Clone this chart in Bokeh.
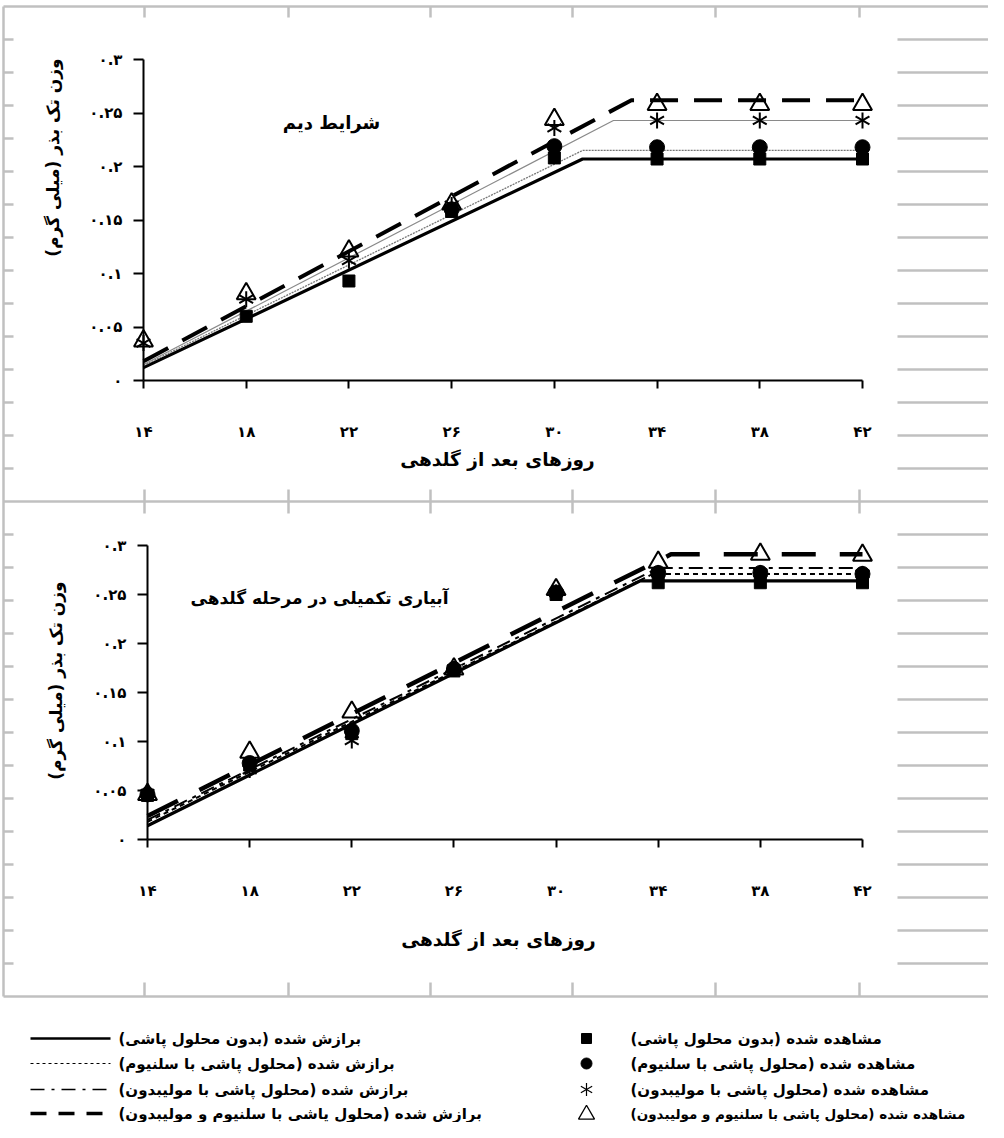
import math
from bokeh.plotting import figure
from bokeh.models import Range1d, LinearAxis, FixedTicker
from bokeh.core.properties import value
from bokeh.embed import file_html
from bokeh.resources import INLINE

nan = float("nan")
RLM = "\u200f"

# ---------------- data ----------------
days = [14, 18, 22, 26, 30, 34, 38, 42]
x_tick_labels = ["۱۴", "۱۸", "۲۲", "۲۶", "۳۰", "۳۴", "۳۸", "۴۲"]
y_ticks = [0, 0.05, 0.1, 0.15, 0.2, 0.25, 0.3]
y_tick_labels = ["۰", "۰.۰۵", "۰.۱", "۰.۱۵", "۰.۲", "۰.۲۵", "۰.۳"]

x_title = "روزهای بعد از گلدهی"
y_title = "وزن تک بذر (میلی گرم)"
top_note = "شرایط دیم"
bottom_note = "آبیاری تکمیلی در مرحله گلدهی"

legend_fit = ["برازش شده (بدون محلول پاشی)",
              "برازش شده (محلول پاشی با سلنیوم)",
              "برازش شده (محلول پاشی با مولیبدون)",
              "برازش شده (محلول پاشی با سلنیوم و مولیبدون)"]
legend_obs = ["مشاهده شده (بدون محلول پاشی)",
              "مشاهده شده (محلول پاشی با سلنیوم)",
              "مشاهده شده (محلول پاشی با مولیبدون)",
              "مشاهده شده (محلول پاشی با سلنیوم و مولیبدون)"]

# top panel (rainfed) - observed
top_obs_none = [nan, 0.060, 0.093, 0.158, 0.208, 0.207, 0.207, 0.207]
top_obs_se = [nan, nan, nan, 0.160, 0.219, 0.218, 0.218, 0.218]
top_obs_mo = [0.035, 0.076, 0.112, 0.164, 0.236, 0.243, 0.243, 0.243]
top_obs_semo = [0.037, 0.081, 0.121, 0.165, 0.244, 0.258, 0.258, 0.258]
# top panel - fitted (start, breakpoint, end)
top_fit_none_x = [14, 31.1, 42]
top_fit_none_y = [0.012, 0.207, 0.207]
top_fit_se_x = [14, 31.1, 42]
top_fit_se_y = [0.014, 0.215, 0.215]
top_fit_mo_x = [14, 32.3, 42]
top_fit_mo_y = [0.015, 0.243, 0.243]
top_fit_semo_x = [14, 33.0, 42]
top_fit_semo_y = [0.018, 0.262, 0.262]

# bottom panel (supplementary irrigation) - observed
bot_obs_none = [0.045, 0.076, 0.108, 0.172, 0.250, 0.262, 0.262, 0.262]
bot_obs_se = [0.046, 0.078, 0.111, 0.174, 0.252, 0.272, 0.272, 0.271]
bot_obs_mo = [0.047, 0.071, 0.101, 0.174, 0.252, 0.272, 0.272, 0.271]
bot_obs_semo = [0.046, 0.089, 0.130, 0.174, 0.255, 0.283, 0.291, 0.290]
# bottom panel - fitted
bot_fit_none_x = [14, 33.3, 42]
bot_fit_none_y = [0.014, 0.264, 0.264]
bot_fit_se_x = [14, 33.8, 42]
bot_fit_se_y = [0.018, 0.271, 0.271]
bot_fit_mo_x = [14, 34.0, 42]
bot_fit_mo_y = [0.020, 0.277, 0.277]
bot_fit_semo_x = [14, 34.5, 42]
bot_fit_semo_y = [0.024, 0.291, 0.291]

# ---------------- layout (page pixels) ----------------
W, H = 988, 1122
PX0, PX1 = 8, 8 + W          # page x covered by the figure
PY0, PY1 = 8, 8 + H          # page y covered by the figure
FONT = value("DejaVu Sans")


def lin_range(v0, p0, v1, p1, lo, hi):
    k = (v1 - v0) / (p1 - p0)
    return Range1d(start=v0 + (lo - p0) * k, end=v0 + (hi - p0) * k)


p = figure(width=W, height=H, output_backend="svg", toolbar_location=None,
           x_range=Range1d(PX0, PX1), y_range=Range1d(PY1, PY0),
           x_axis_type=None, y_axis_type=None, min_border=0,
           outline_line_color=None, background_fill_color="white")
p.grid.visible = False

# panel coordinate systems: (value at page pixel) anchors
p.extra_x_ranges = {
    "x1": lin_range(14, 151, 42, 870, PX0, PX1),
    "x2": lin_range(14, 155, 42, 870, PX0, PX1),
}
p.extra_y_ranges = {
    "y1": lin_range(0, 388, 0.3, 67, PY1, PY0),
    "y2": lin_range(0, 847, 0.3, 553, PY1, PY0),
}

# ---------------- background spreadsheet grid ----------------
GRAY = "#c0c0c0"
row_y = [14 + 33 * k for k in range(31)]
col_x = [152, 296, 438, 580, 723, 867]
sx0, sy0, sx1, sy1 = [], [], [], []
for k, yy in enumerate(row_y):
    if k in (0, 15, 30):
        sx0.append(11); sx1.append(PX1); sy0.append(yy); sy1.append(yy)
    else:
        sx0 += [11, 905]; sx1 += [21, PX1]; sy0 += [yy, yy]; sy1 += [yy, yy]
sx0.append(11); sx1.append(11); sy0.append(14); sy1.append(1004)
for cx in col_x:
    for a, b in [(14, 25), (497, 521), (990, 1004)]:
        sx0.append(cx); sx1.append(cx); sy0.append(a); sy1.append(b)
p.segment(x0=sx0, y0=sy0, x1=sx1, y1=sy1, line_color=GRAY, line_width=2.5)


# ---------------- panels ----------------
def panel(xr, yr, obs, fits, styles, note, note_xy, note_size, title_xy, ytitle_xy):
    kw = dict(x_range_name=xr, y_range_name=yr)
    # axes
    xa = LinearAxis(fixed_location=0, bounds=(14, 42), **kw,
                    ticker=FixedTicker(ticks=days),
                    major_label_overrides=dict(zip(days, x_tick_labels)))
    ya = LinearAxis(fixed_location=14, bounds=(0, 0.3), **kw,
                    ticker=FixedTicker(ticks=y_ticks),
                    major_label_overrides=dict(zip(y_ticks, y_tick_labels)))
    for ax in (xa, ya):
        ax.axis_line_width = 2
        ax.axis_line_color = "black"
        ax.major_tick_line_width = 2
        ax.major_tick_in = 0
        ax.minor_tick_line_color = None
        ax.major_label_text_font = "DejaVu Sans"
        ax.major_label_text_font_style = "bold"
        ax.major_label_text_font_size = "15px"
        ax.major_label_text_color = "black"
    xa.major_tick_out = 8
    xa.major_label_standoff = 34
    ya.major_tick_out = 10
    ya.major_label_standoff = 11
    p.add_layout(xa, "below")
    p.add_layout(ya, "left")

    # fitted lines
    for (fx, fy), st in zip(fits, styles):
        p.line(fx, fy, **kw, **st)

    o_none, o_se, o_mo, o_semo = obs
    p.scatter(days, o_none, marker="square", size=12, color="black", **kw)
    p.scatter(days, o_se, marker="circle", size=15, color="black", **kw)
    for ang in (math.pi / 2, math.pi / 6, -math.pi / 6):
        p.scatter(days, o_mo, marker="dash", size=16, angle=ang,
                  line_color="black", line_width=2, **kw)
    p.scatter(days, o_semo, marker="triangle", size=19, line_color="black",
              line_width=2, fill_alpha=0, **kw)

    # texts (positions in page pixels)
    p.text(x=[note_xy[0]], y=[note_xy[1]], text=[note], text_align="center",
           text_baseline="middle", text_font=FONT, text_font_style="bold",
           text_font_size=note_size, text_color="black")
    p.text(x=[title_xy[0]], y=[title_xy[1]], text=[x_title], text_align="center",
           text_baseline="middle", text_font=FONT, text_font_style="bold",
           text_font_size="18.5px", text_color="black")
    p.text(x=[ytitle_xy[0]], y=[ytitle_xy[1]], text=[y_title + RLM], angle=math.pi / 2,
           text_align="center", text_baseline="middle", text_font=FONT,
           text_font_style="bold", text_font_size="17px", text_color="black")


top_styles = [
    dict(line_color="black", line_width=3.2),
    dict(line_color="#777777", line_width=1.3, line_dash="2 1"),
    dict(line_color="#8a8a8a", line_width=1.2),
    dict(line_color="black", line_width=4, line_dash="28 16"),
]
bot_styles = [
    dict(line_color="black", line_width=3.2),
    dict(line_color="black", line_width=2, line_dash="5 4"),
    dict(line_color="black", line_width=2, line_dash="14 6 4 6"),
    dict(line_color="black", line_width=4.5, line_dash="34 24"),
]

panel("x1", "y1",
      (top_obs_none, top_obs_se, top_obs_mo, top_obs_semo),
      [(top_fit_none_x, top_fit_none_y), (top_fit_se_x, top_fit_se_y),
       (top_fit_mo_x, top_fit_mo_y), (top_fit_semo_x, top_fit_semo_y)],
      top_styles, top_note, (339, 130), "18px", (505, 467), (60, 165))

panel("x2", "y2",
      (bot_obs_none, bot_obs_se, bot_obs_mo, bot_obs_semo),
      [(bot_fit_none_x, bot_fit_none_y), (bot_fit_se_x, bot_fit_se_y),
       (bot_fit_mo_x, bot_fit_mo_y), (bot_fit_semo_x, bot_fit_semo_y)],
      bot_styles, bottom_note, (327, 605), "17px", (506, 947), (63, 688))

# ---------------- legend ----------------
leg_rows = [1046, 1071, 1097, 1121]
leg_line_styles = [
    dict(line_color="black", line_width=2.5),
    dict(line_color="black", line_width=1.2, line_dash="3 3"),
    dict(line_color="black", line_width=1.5, line_dash="14 7 3 7"),
    dict(line_color="black", line_width=3.5, line_dash="16 12"),
]
for yy, st in zip(leg_rows, leg_line_styles):
    p.line([38, 118], [yy, yy], **st)
p.text(x=[126] * 4, y=leg_rows, text=[s + RLM for s in legend_fit], text_align="left",
       text_baseline="middle", text_font=FONT, text_font_style="bold",
       text_font_size="15px", text_color="black")

mx = 594
p.scatter([mx], [leg_rows[0]], marker="square", size=10, color="black")
p.scatter([mx], [leg_rows[1]], marker="circle", size=11, color="black")
for ang in (math.pi / 2, math.pi / 6, -math.pi / 6):
    p.scatter([mx], [leg_rows[2]], marker="dash", size=13, angle=ang,
              line_color="black", line_width=1.2)
p.scatter([mx], [leg_rows[3] + 1], marker="triangle", size=16, line_color="black",
          line_width=1.3, fill_alpha=0)
p.text(x=[638] * 3, y=leg_rows[:3], text=[s + RLM for s in legend_obs[:3]],
       text_align="left", text_baseline="middle", text_font=FONT,
       text_font_style="bold", text_font_size="15px", text_color="black")
p.text(x=[638], y=[leg_rows[3]], text=[legend_obs[3] + RLM],
       text_align="left", text_baseline="middle", text_font=FONT,
       text_font_style="bold", text_font_size="13.5px", text_color="black")

open("out.html", "w").write(file_html(p, INLINE))
